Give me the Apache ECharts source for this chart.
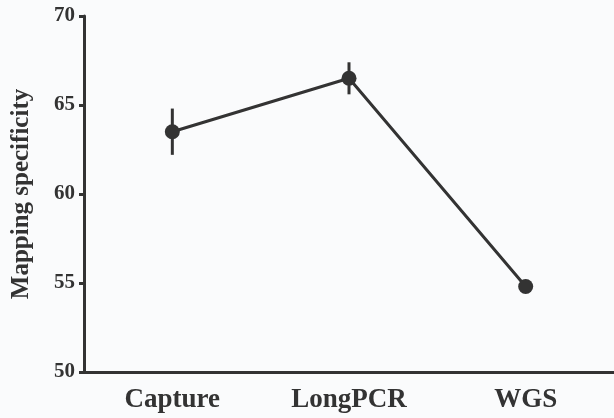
<!DOCTYPE html>
<html><head><meta charset="utf-8">
<script src="https://cdn.jsdelivr.net/npm/echarts@6/dist/echarts.min.js"></script>
<style>html,body{margin:0;padding:0;background:#fafbfc;}#c{width:614px;height:418px;}</style>
</head><body><div id="c"></div>
<script>
var categories = ['Capture', 'LongPCR', 'WGS'];
var means = [63.5, 66.5, 54.8];
var errLow = [62.2, 65.6, 54.8];
var errHigh = [64.8, 67.4, 54.8];
var yTicks = [50, 55, 60, 65, 70];

var FONT = '"Liberation Serif", "Times New Roman", serif';
var DARK = '#333333';
var chart = echarts.init(document.getElementById('c'));
var errData = categories.map(function (c, i) { return [i, errLow[i], errHigh[i]]; });
chart.setOption({
  backgroundColor: '#fafbfc',
  animation: false,
  grid: { left: 84, top: 16, right: -4, bottom: 46 },
  xAxis: {
    type: 'category', data: categories, boundaryGap: true,
    axisLine: { lineStyle: { color: DARK, width: 3 } },
    axisTick: { alignWithLabel: true, length: 6, lineStyle: { color: DARK, width: 3 } },
    axisLabel: { color: DARK, fontFamily: FONT, fontWeight: 'bold', fontSize: 27, margin: 15 },
    splitLine: { show: false }
  },
  yAxis: {
    type: 'value', min: yTicks[0], max: yTicks[yTicks.length - 1], interval: 5,
    name: 'Mapping specificity', nameLocation: 'middle', nameGap: 50,
    nameTextStyle: { color: DARK, fontFamily: FONT, fontWeight: 'bold', fontSize: 25 },
    axisLine: { show: true, lineStyle: { color: DARK, width: 3 } },
    axisTick: { show: true, length: 5, lineStyle: { color: DARK, width: 3 } },
    axisLabel: { color: DARK, fontFamily: FONT, fontWeight: 'bold', fontSize: 21, margin: 9 },
    splitLine: { show: false }
  },
  series: [
    {
      type: 'custom', data: errData, z: 3,
      renderItem: function (params, api) {
        var x = api.value(0);
        var p1 = api.coord([x, api.value(1)]);
        var p2 = api.coord([x, api.value(2)]);
        return { type: 'line', shape: { x1: p1[0], y1: p1[1], x2: p2[0], y2: p2[1] },
          style: { stroke: DARK, lineWidth: 3 } };
      }
    },
    {
      type: 'line', data: means, z: 4,
      symbol: 'circle', symbolSize: 15,
      lineStyle: { color: DARK, width: 3 },
      itemStyle: { color: DARK }
    }
  ]
});
</script></body></html>
